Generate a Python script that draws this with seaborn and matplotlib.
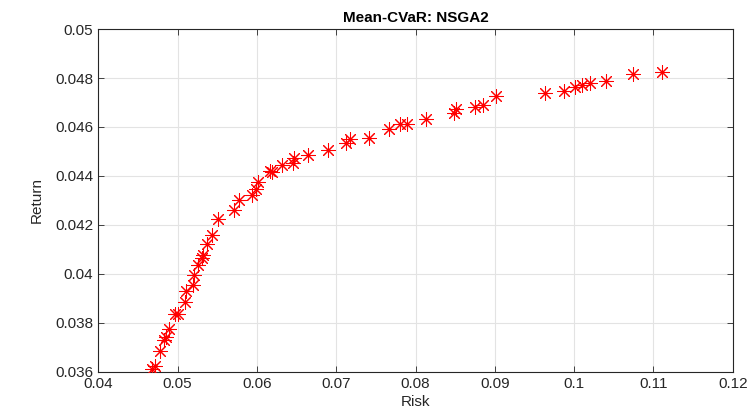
import matplotlib
matplotlib.use("Agg")
import matplotlib.pyplot as plt
import seaborn as sns
import pandas as pd

risk = [0.0468, 0.0472, 0.0478, 0.0483, 0.0486, 0.0489, 0.0497, 0.0500,
        0.0509, 0.0511, 0.0520, 0.0521, 0.0526, 0.0531, 0.0532, 0.0537,
        0.0544, 0.0551, 0.0571, 0.0577, 0.0594, 0.0599, 0.0601, 0.0616,
        0.0619, 0.0632, 0.0645, 0.0647, 0.0664, 0.0690, 0.0712, 0.0718,
        0.0742, 0.0766, 0.0780, 0.0789, 0.0813, 0.0848, 0.0851, 0.0875,
        0.0885, 0.0901, 0.0963, 0.0987, 0.1001, 0.1010, 0.1020, 0.1040,
        0.1074, 0.1111]
ret = [0.03610, 0.03622, 0.03683, 0.03728, 0.03744, 0.03774, 0.03836, 0.03838,
       0.03883, 0.03928, 0.03955, 0.03996, 0.04037, 0.04064, 0.04078, 0.04121,
       0.04159, 0.04224, 0.04261, 0.04300, 0.04322, 0.04346, 0.04377, 0.04420,
       0.04415, 0.04445, 0.04452, 0.04472, 0.04486, 0.04506, 0.04536, 0.04550,
       0.04556, 0.04592, 0.04612, 0.04612, 0.04633, 0.04656, 0.04672, 0.04680,
       0.04690, 0.04727, 0.04738, 0.04748, 0.04762, 0.04773, 0.04778, 0.04788,
       0.04816, 0.04823]

xticks = [0.04, 0.05, 0.06, 0.07, 0.08, 0.09, 0.1, 0.11, 0.12]
xticklabels = ["0.04", "0.05", "0.06", "0.07", "0.08", "0.09", "0.1", "0.11", "0.12"]
yticks = [0.036, 0.038, 0.04, 0.042, 0.044, 0.046, 0.048, 0.05]
yticklabels = ["0.036", "0.038", "0.04", "0.042", "0.044", "0.046", "0.048", "0.05"]

df = pd.DataFrame({"Risk": risk, "Return": ret})

sns.set_style("white")
plt.rcParams["font.family"] = ["Liberation Sans", "DejaVu Sans"]

fig = plt.figure(figsize=(7.5, 4.09), dpi=100)
ax = fig.add_axes([0.131, 0.091, 0.846, 0.838])

sns.scatterplot(data=df, x="Risk", y="Return", ax=ax, marker=(8, 2, 0),
                s=95, color="#ff0000", linewidth=0.75, edgecolor="#ff0000",
                zorder=3)

ax.set_xlim(0.04, 0.12)
ax.set_ylim(0.036, 0.05)
ax.set_xticks(xticks)
ax.set_xticklabels(xticklabels)
ax.set_yticks(yticks)
ax.set_yticklabels(yticklabels)
ax.grid(True, color="#e3e3e3", linewidth=0.8)
ax.set_axisbelow(True)
for sp in ax.spines.values():
    sp.set_visible(True)
    sp.set_color("#262626")
    sp.set_linewidth(0.8)
ax.tick_params(axis="both", which="both", direction="in", length=4,
               top=True, right=True, bottom=True, left=True,
               labelsize=11, labelcolor="#262626", color="#262626", width=0.6)
ax.set_xlabel("Risk", fontsize=11, color="#262626", labelpad=3)
ax.set_ylabel("Return", fontsize=11, color="#262626", labelpad=8)
ax.set_title("Mean-CVaR: NSGA2", fontsize=11, fontweight="bold", color="black", pad=5)

fig.savefig("out.png", dpi=100)
